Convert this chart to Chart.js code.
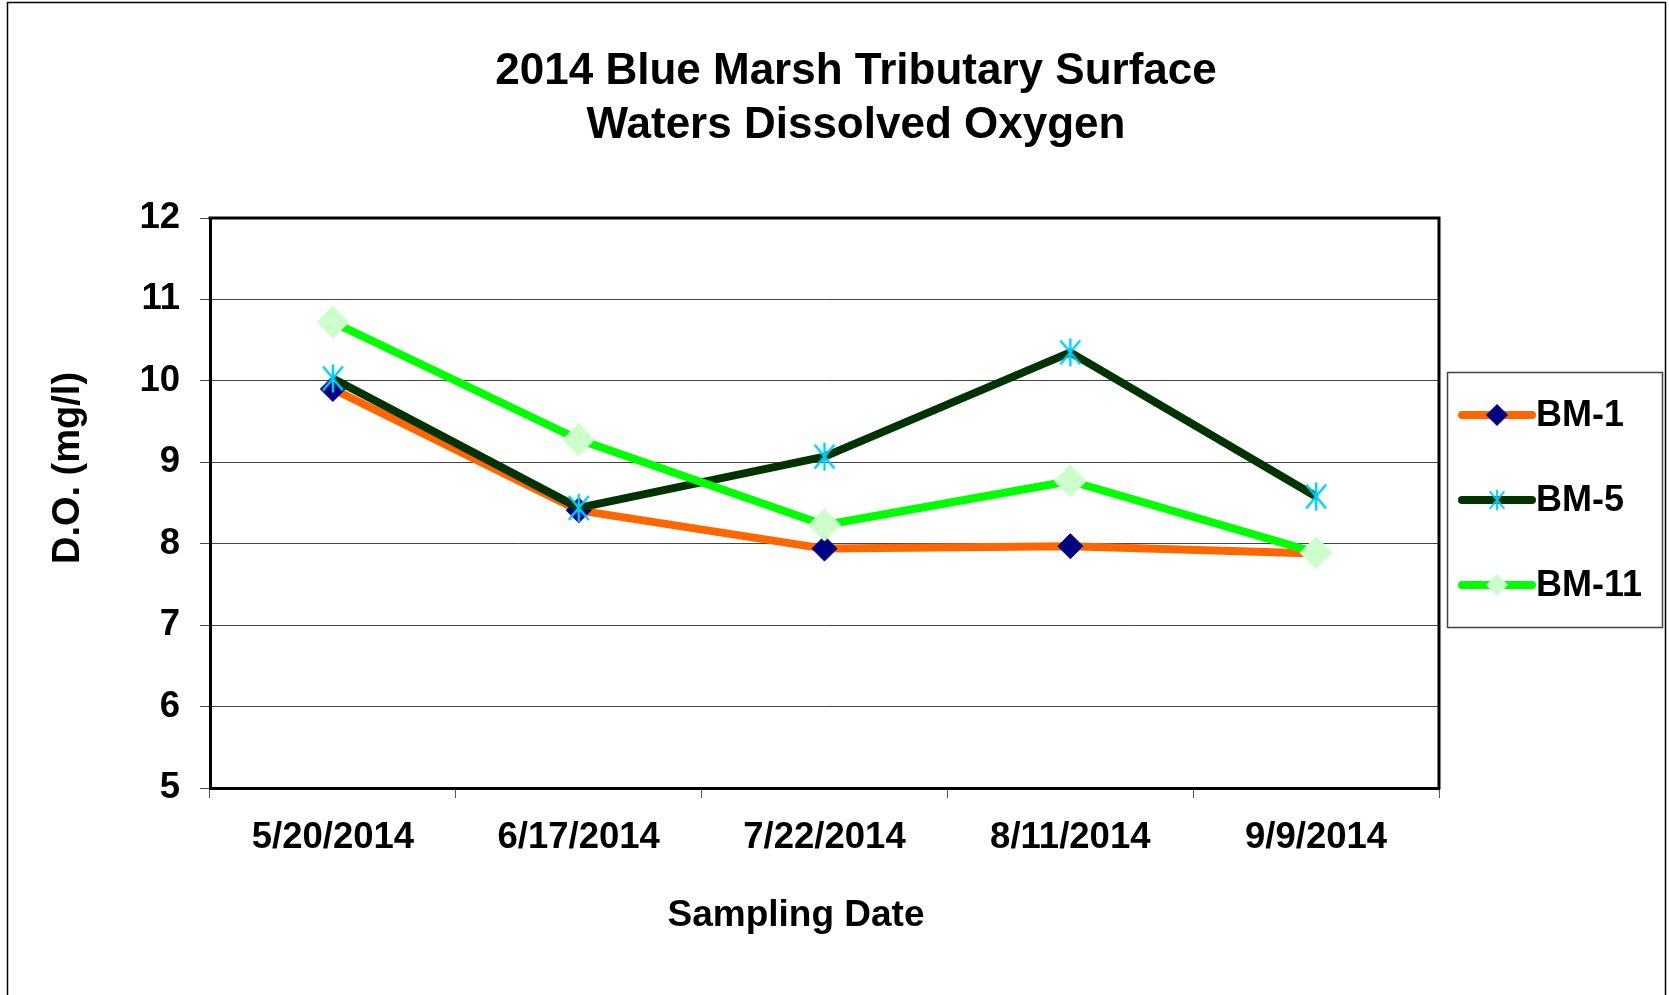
<!DOCTYPE html>
<html>
<head>
<meta charset="utf-8">
<title>2014 Blue Marsh Tributary Surface Waters Dissolved Oxygen</title>
<script src="https://cdn.jsdelivr.net/npm/chart.js@4.4.1/dist/chart.umd.min.js"></script>
<style>
body{margin:0;background:#fff}
canvas{display:block}
</style>
</head>
<body>
<canvas id="myChart" width="1669" height="995"></canvas>
<script>
const dates = ["5/20/2014","6/17/2014","7/22/2014","8/11/2014","9/9/2014"]
const bm1 = [9.90, 8.41, 7.94, 7.97, 7.88]
const bm5 = [10.03, 8.44, 9.07, 10.35, 8.58]
const bm11 = [10.72, 9.28, 8.23, 8.77, 7.89]
const yTicks = [5,6,7,8,9,10,11,12]

const FONT = "'Liberation Sans', Arial, sans-serif"

// excel style asterisk marker (vertical bar + x)
function makeStar(){
    let c = document.createElement("canvas")
    c.width = 30
    c.height = 30
    let g = c.getContext("2d")
    g.strokeStyle = "#00CCFF"
    g.lineWidth = 2.5
    g.beginPath()
    g.moveTo(15,1); g.lineTo(15,29)
    g.moveTo(5,3); g.lineTo(25,27)
    g.moveTo(25,3); g.lineTo(5,27)
    g.stroke()
    return c
}
const star = makeStar()

function drawMarker(ctx, ds, x, y, r){
    if (ds.pointStyle instanceof HTMLCanvasElement) {
        ctx.drawImage(ds.pointStyle, x - r, y - r, 2*r, 2*r)
        return
    }
    ctx.fillStyle = ds.pointBackgroundColor
    ctx.beginPath()
    ctx.moveTo(x - r, y); ctx.lineTo(x, y - r); ctx.lineTo(x + r, y); ctx.lineTo(x, y + r)
    ctx.closePath()
    ctx.fill()
}

const extras = {
    id: "extras",
    afterDraw(chart){
        const ctx = chart.ctx
        const a = chart.chartArea
        ctx.save()
        // top and right side of the plot frame
        ctx.strokeStyle = "#000"
        ctx.lineWidth = 3
        ctx.beginPath()
        ctx.moveTo(a.left - 1.5, a.top)
        ctx.lineTo(a.right, a.top)
        ctx.lineTo(a.right, a.bottom + 1.5)
        ctx.stroke()
        // outer border
        ctx.lineWidth = 1.5
        ctx.strokeRect(7.5, 2.5, 1658, 1100)

        // axis titles
        ctx.fillStyle = "#000"
        ctx.font = "bold 37px " + FONT
        ctx.textAlign = "center"
        ctx.textBaseline = "middle"
        ctx.fillText("Sampling Date", 796, 916)
        ctx.save()
        ctx.translate(69, 468)
        ctx.rotate(-Math.PI/2)
        ctx.font = "bold 38px " + FONT
        ctx.fillText("D.O. (mg/l)", 0, 0)
        ctx.restore()

        // legend
        ctx.strokeStyle = "#444"
        ctx.lineWidth = 1.5
        ctx.strokeRect(1447.5, 372.5, 215, 255)
        const rows = [415, 500, 585]
        chart.data.datasets.forEach((ds, i) => {
            let y = rows[i]
            ctx.strokeStyle = ds.borderColor
            ctx.lineWidth = 8
            ctx.lineCap = "round"
            ctx.beginPath()
            ctx.moveTo(1462, y)
            ctx.lineTo(1532, y)
            ctx.stroke()
            drawMarker(ctx, ds, 1497, y, 11)
            ctx.fillStyle = "#000"
            ctx.font = "bold 36px " + FONT
            ctx.textAlign = "left"
            ctx.textBaseline = "middle"
            ctx.fillText(ds.label, 1536, y + 1)
        })
        ctx.restore()
    }
}

let myChart = document.querySelector("#myChart").getContext("2d")

let chartOne = new Chart(myChart, {
    type: "line",
    data: {
        labels: dates,
        datasets: [{
            label: "BM-1",
            data: bm1,
            borderColor: "#FF6600",
            borderWidth: 8,
            pointStyle: "rectRot",
            pointRadius: 12.5,
            pointBackgroundColor: "#000080",
            pointBorderColor: "#000080",
            pointBorderWidth: 1,
            order: 3
        }, {
            label: "BM-5",
            data: bm5,
            borderColor: "#003300",
            borderWidth: 8,
            pointStyle: star,
            pointRadius: 14,
            order: 2
        }, {
            label: "BM-11",
            data: bm11,
            borderColor: "#00FF00",
            borderWidth: 8,
            pointStyle: "rectRot",
            pointRadius: 16,
            pointBackgroundColor: "#CCFFCC",
            pointBorderColor: "#CCFFCC",
            pointBorderWidth: 1,
            order: 1
        }]
    },
    options: {
        responsive: false,
        animation: false,
        events: [],
        layout: {
            padding: {left: 43, right: 0, top: 0, bottom: 0}
        },
        elements: {
            line: {tension: 0, borderJoinStyle: "round"}
        },
        plugins: {
            legend: {display: false},
            tooltip: {enabled: false},
            title: {
                display: true,
                text: ["2014 Blue Marsh Tributary Surface", "Waters Dissolved Oxygen"],
                color: "#000",
                font: {family: FONT, size: 44, weight: "bold", lineHeight: "54px"},
                padding: {top: 45, bottom: 65}
            }
        },
        scales: {
            x: {
                offset: true,
                grid: {
                    offset: true,
                    drawOnChartArea: false,
                    tickLength: 10,
                    color: "#555"
                },
                border: {display: true, color: "#000", width: 3},
                ticks: {
                    color: "#000",
                    font: {family: FONT, size: 36.5, weight: "bold"},
                    padding: 18,
                    maxRotation: 0,
                    autoSkip: false
                },
                afterFit(scale){ scale.height = 207 }
            },
            y: {
                min: yTicks[0],
                max: yTicks[yTicks.length - 1],
                ticks: {
                    stepSize: 1,
                    color: "#000",
                    font: {family: FONT, size: 36.5, weight: "bold"},
                    padding: 20
                },
                grid: {
                    color: "#444",
                    lineWidth: 1,
                    tickLength: 10
                },
                border: {display: true, color: "#000", width: 3},
                afterFit(scale){ scale.width = 167 }
            },
            // empty axis on the right, only keeps room for the legend box
            y2: {
                position: "right",
                display: true,
                ticks: {display: false},
                grid: {display: false},
                border: {display: false},
                afterFit(scale){ scale.width = 230 }
            }
        }
    },
    plugins: [extras]
})
</script>
</body>
</html>
